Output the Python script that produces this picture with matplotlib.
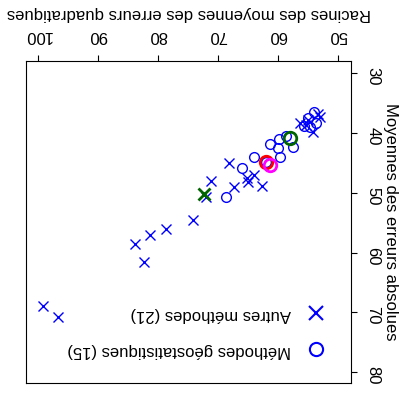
import numpy as np
import matplotlib
matplotlib.use("Agg")
import matplotlib.pyplot as plt
from matplotlib.lines import Line2D

plt.rcParams['font.family'] = ['Liberation Sans', 'DejaVu Sans']

# autres methodes (croix) : RMSE, MAE
autres_rmse = [99.1, 96.6, 83.8, 82.4, 81.4, 78.7, 74.1, 71.1, 71.9, 68.1, 67.3,
               65.2, 64.0, 62.6, 65.0, 53.3, 53.0, 54.2, 55.3, 56.3, 55.0]
autres_mae = [68.9, 70.7, 58.6, 61.6, 57.1, 56.1, 54.6, 48.0, 50.7, 45.1, 49.0,
              47.6, 47.1, 48.9, 48.2, 36.8, 37.3, 39.8, 38.7, 38.4, 37.8]

# methodes geostatistiques (cercles)
geo_rmse = [68.6, 66.0, 64.0, 59.7, 62.0, 61.3, 59.9, 59.8, 57.4, 58.6,
            54.9, 54.7, 55.6, 53.6, 54.0]
geo_mae = [50.8, 45.9, 44.0, 44.0, 44.8, 41.8, 42.6, 41.1, 42.3, 40.6,
           37.6, 39.0, 38.9, 38.4, 36.5]

# points mis en evidence
hl_rmse = [72.3, 61.9, 61.3, 57.9]
hl_mae = [50.2, 44.8, 45.4, 40.9]
hl_marker = ['x', 'o', 'o', 'o']
hl_color = ['#006400', '#ff0000', '#ff00ff', '#006400']

xticks = [50, 60, 70, 80, 90, 100]
yticks = [30, 40, 50, 60, 70, 80]

fig = plt.figure(figsize=(4.06, 3.93), dpi=100)
ax = fig.add_axes([26/406, 1-383/393, 325/406, 322/393])

ax.plot(autres_rmse, autres_mae, 'x', color='#0000ff', ms=7, mew=1.0, ls='none')
ax.plot(geo_rmse, geo_mae, 'o', color='#0000ff', mfc='none', ms=7, mew=1.0, ls='none')
for i in range(len(hl_rmse)):
    ax.plot(hl_rmse[i], hl_mae[i], hl_marker[i], color=hl_color[i], mfc='none',
            ms=9, mew=2.0, ls='none')

# figure tournee de 180 degres
ax.set_xlim(102, 47.8)
ax.set_ylim(81.8, 28)
ax.xaxis.tick_top()
ax.yaxis.tick_right()
ax.set_xticks(xticks)
ax.set_yticks(yticks)
ax.tick_params(axis='x', direction='out', length=4.3, width=0.8, pad=9, labelsize=12,
               labelrotation=180)
ax.tick_params(axis='y', direction='out', length=4.3, width=0.8, pad=6, labelsize=12,
               labelrotation=-90)
for s in ax.spines.values():
    s.set_linewidth(0.8)

fig.text(188.5/406, 1-13/393, "Racines des moyennes des erreurs quadratiques",
         rotation=180, ha='center', va='center', fontsize=12)
fig.text(391/406, 1-222/393, "Moyennes des erreurs absolues",
         rotation=-90, ha='center', va='center', fontsize=12)

handles = [Line2D([], [], marker='x', color='#0000ff', ms=10, mew=1.5, ls='none'),
           Line2D([], [], marker='o', color='#0000ff', mfc='none', ms=9.5, mew=1.5, ls='none')]
labels = ["Autres méthodes (21)", "Méthodes géostatistiques (15)"]
leg = ax.legend(handles, labels, loc='lower right', bbox_to_anchor=(0.943, 0.078),
                markerfirst=False, frameon=False, fontsize=12, borderpad=0,
                handletextpad=0.5, labelspacing=1.25, borderaxespad=0)
for t in leg.get_texts():
    t.set_rotation(180)

fig.savefig("out.png", dpi=100)
